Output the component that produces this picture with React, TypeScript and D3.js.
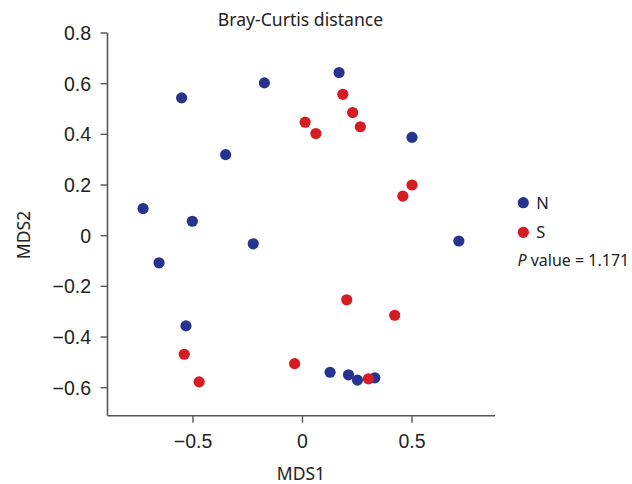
import React from 'react';
import * as d3 from 'd3';

// NMDS coordinates
const nX = [-0.552, -0.174, -0.351, -0.728, -0.503, -0.225, -0.655, -0.532, 0.167, 0.5, 0.714, 0.126, 0.21, 0.251, 0.33];
const nY = [0.544, 0.603, 0.32, 0.107, 0.057, -0.032, -0.107, -0.356, 0.644, 0.388, -0.021, -0.539, -0.549, -0.57, -0.561];
const sX = [0.012, 0.061, 0.184, 0.229, 0.264, 0.5, 0.458, 0.202, 0.421, 0.301, -0.54, -0.472, -0.036];
const sY = [0.448, 0.403, 0.558, 0.486, 0.43, 0.2, 0.156, -0.253, -0.314, -0.565, -0.468, -0.577, -0.505];

const xTicks = [-0.5, 0, 0.5];
const yTicks = [0.8, 0.6, 0.4, 0.2, 0, -0.2, -0.4, -0.6];

const groups = [
  { key: 'N', color: '#27348f', xs: nX, ys: nY },
  { key: 'S', color: '#d61c23', xs: sX, ys: sY },
];

const pValue = '1.171';

const App = () => {
  const width = 632;
  const height = 484;
  const left = 107.5;
  const right = 495;
  const top = 33;
  const bottom = 415.7;

  const x = d3.scaleLinear().domain([-0.5, 0.5]).range([193, 412]);
  const y = d3.scaleLinear().domain([0.8, -0.6]).range([top, 387.7]);
  const fmt = d3.format('');
  const axisColor = '#555';
  const textColor = '#222';
  const tickFont = '"Liberation Sans", Arial, sans-serif';
  const labelFont = '"Noto Sans", "Open Sans", sans-serif';

  return (
    <svg width={width} height={height} style={{ position: 'absolute', left: 0, top: 0 }}>
      <rect width={width} height={height} fill="#fff" />
      <text x={300.5} y={25.5} textAnchor="middle" fontFamily={labelFont} fontSize={17.6} fill={textColor}>
        Bray-Curtis distance
      </text>

      {/* y axis */}
      <line x1={left} x2={left} y1={top} y2={bottom} stroke={axisColor} strokeWidth={1.6} />
      {yTicks.map(t => (
        <g key={t} transform={`translate(0,${y(t)})`}>
          <line x1={left - 7} x2={left} stroke={axisColor} strokeWidth={1.4} />
          <text x={91} dy="0.36em" textAnchor="end" fontFamily={tickFont} fontSize={19.5} fill={textColor}>
            {fmt(t)}
          </text>
        </g>
      ))}

      {/* x axis */}
      <line x1={left} x2={right} y1={bottom} y2={bottom} stroke={axisColor} strokeWidth={1.6} />
      {xTicks.map(t => (
        <g key={t} transform={`translate(${x(t)},0)`}>
          <line y1={bottom} y2={bottom + 7} stroke={axisColor} strokeWidth={1.4} />
          <text y={448} textAnchor="middle" fontFamily={tickFont} fontSize={19.5} fill={textColor}>
            {fmt(t)}
          </text>
        </g>
      ))}

      <text x={301} y={480} textAnchor="middle" fontFamily={labelFont} fontSize={17.5} fill={textColor}>
        MDS1
      </text>
      <text transform={`translate(30,235) rotate(-90)`} textAnchor="middle" fontFamily={labelFont} fontSize={17.5} fill={textColor}>
        MDS2
      </text>

      {groups.map(g => (
        <g key={g.key} fill={g.color}>
          {g.xs.map((v, i) => (
            <circle key={i} cx={x(v)} cy={y(g.ys[i])} r={5.6} />
          ))}
        </g>
      ))}

      {/* legend */}
      {groups.map((g, i) => (
        <g key={g.key} transform={`translate(523.3,${202.7 + i * 29.6})`}>
          <circle r={5.6} fill={g.color} />
          <text x={13} dy="0.36em" fontFamily={labelFont} fontSize={16.5} fill={textColor}>
            {g.key}
          </text>
        </g>
      ))}
      <text x={517.5} y={265.5} fontFamily={labelFont} fontSize={16} fill={textColor}>
        <tspan fontStyle="italic">P</tspan> value = {pValue}
      </text>
    </svg>
  );
};

export default App;
